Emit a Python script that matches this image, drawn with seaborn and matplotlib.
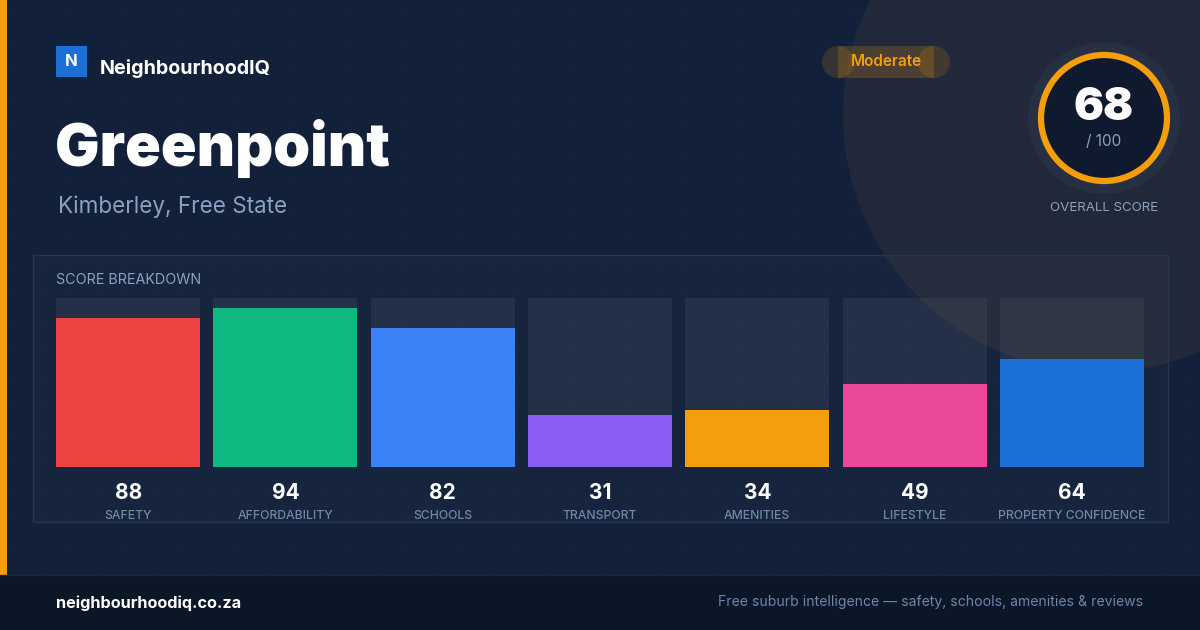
import pandas as pd
import numpy as np
from matplotlib import pyplot as plt
from matplotlib import patches
from matplotlib.transforms import blended_transform_factory
import seaborn as sns

# data
categories = ['SAFETY', 'AFFORDABILITY', 'SCHOOLS', 'TRANSPORT', 'AMENITIES', 'LIFESTYLE', 'PROPERTY CONFIDENCE']
scores = [88, 94, 82, 31, 34, 49, 64]
bar_colors = ['#ef4444', '#10b981', '#3b82f6', '#8b5cf6', '#f59e0b', '#ec4899', '#1d6fd8']
overall_score = 68
rating = 'Moderate'
suburb = 'Greenpoint'
location = 'Kimberley, Free State'

BG = '#12203a'
MUTED = '#8aa1bf'
ORANGE = '#f59e0b'

sns.set_theme(style='white')
plt.rcParams['font.family'] = ['Inter', 'DejaVu Sans']

fig = plt.figure(figsize=(12, 6.3), dpi=100, facecolor=BG)

# overlay axes in pixel coords
bg = fig.add_axes([0, 0, 1, 1], zorder=0)
bg.set_xlim(0, 1200)
bg.set_ylim(630, 0)
bg.set_axis_off()

# faint dot grid
gx, gy = np.meshgrid(np.arange(14, 1200, 28), np.arange(14, 575, 28))
bg.scatter(gx.ravel(), gy.ravel(), s=1.2, color='white', alpha=0.04, linewidths=0, zorder=0.5)

# big decorative circle top right
bg.add_patch(patches.Circle((1100, 115), 257, facecolor='#2a2f3a', alpha=0.6, lw=0, zorder=1))

# panel
bg.add_patch(patches.Rectangle((33, 255), 1135, 267, facecolor='white', alpha=0.02,
                               edgecolor='none', zorder=2))
bg.add_patch(patches.Rectangle((33, 255), 1135, 267, facecolor='none',
                               edgecolor='#26344c', lw=1, zorder=2))

# left accent stripe
bg.add_patch(patches.Rectangle((0, 0), 7, 575, facecolor=ORANGE, lw=0, zorder=3))

# footer
bg.add_patch(patches.Rectangle((0, 575), 1200, 55, facecolor='#0b1627', lw=0, zorder=3))
bg.plot([0, 1200], [575, 575], color='#1a2840', lw=1, zorder=4)
bg.text(56, 603, 'neighbourhoodiq.co.za', color='white', fontsize=11.7, fontweight='bold',
        va='center', ha='left', zorder=5)
bg.text(1143, 602, 'Free suburb intelligence \u2014 safety, schools, amenities & reviews',
        color='#6a86a8', fontsize=10.1, va='center', ha='right', zorder=5)

# logo
bg.add_patch(patches.Rectangle((56, 46), 31, 31, facecolor='#1d6fd8', lw=0, zorder=3))
bg.text(71.5, 61.5, 'N', color='white', fontsize=12, fontweight='bold', ha='center', va='center', zorder=4)
bg.text(100, 68, 'NeighbourhoodIQ', color='white', fontsize=14.2, fontweight='bold',
        ha='left', va='center', zorder=4)

# title
bg.text(55, 148, suburb, color='white', fontsize=42.5, fontweight='black', ha='left', va='center', zorder=4)
bg.text(58, 207, location, color=MUTED, fontsize=16.2, ha='left', va='center', zorder=4)

# rating badge (with overlapping end caps)
for cx in (838, 934):
    bg.add_patch(patches.Circle((cx, 62), 16, facecolor=ORANGE, alpha=0.16, lw=0, zorder=3))
bg.add_patch(patches.Rectangle((838, 46), 96, 32, facecolor=ORANGE, alpha=0.2, lw=0, zorder=3))
bg.text(886, 62, rating, color=ORANGE, fontsize=11, fontweight='semibold', ha='center', va='center', zorder=4)

# overall score ring
bg.add_patch(patches.Circle((1104, 118), 76, facecolor='#283244', alpha=0.85, lw=0, zorder=3))
bg.add_patch(patches.Circle((1104, 118), 63, facecolor='#0f1a2e', edgecolor=ORANGE, lw=4.5, zorder=4))
bg.text(1104, 108, str(overall_score), color='white', fontsize=32, fontweight='black',
        ha='center', va='center', zorder=5)
bg.text(1104, 142, '/ 100', color=MUTED, fontsize=11, ha='center', va='center', zorder=5)
bg.text(1104, 208, 'OVERALL SCORE', color=MUTED, fontsize=9.6, ha='center', va='center', zorder=5)

bg.text(56, 280, 'SCORE BREAKDOWN', color=MUTED, fontsize=10.3, ha='left', va='center', zorder=5)

# bar chart
ax = fig.add_axes([49.5 / 1200, (630 - 467) / 630, 1101 / 1200, 169 / 630], zorder=2)
ax.patch.set_alpha(0)
df = pd.DataFrame({'category': categories, 'score': scores})
df['track'] = 100
sns.barplot(data=df, x='category', y='track', color='white', alpha=0.06, width=0.915,
            saturation=1, linewidth=0, ax=ax)
sns.barplot(data=df, x='category', y='score', hue='category', palette=bar_colors, width=0.915,
            saturation=1, linewidth=0, legend=False, ax=ax)
ax.set_xlim(-0.5, len(categories) - 0.5)
ax.set_ylim(0, 100)
ax.set_axis_off()

tr = blended_transform_factory(ax.transData, ax.transAxes)
for i, (cat, val) in enumerate(zip(categories, scores)):
    ax.text(i, -0.152, str(val), transform=tr, color='white', fontsize=15, fontweight='bold',
            ha='center', va='center', clip_on=False)
    ax.text(i, -0.29, cat, transform=tr, color='#7088a8', fontsize=8.8, fontweight='medium',
            ha='center', va='center', clip_on=False)

fig.savefig('out.png', dpi=100, facecolor=BG)
